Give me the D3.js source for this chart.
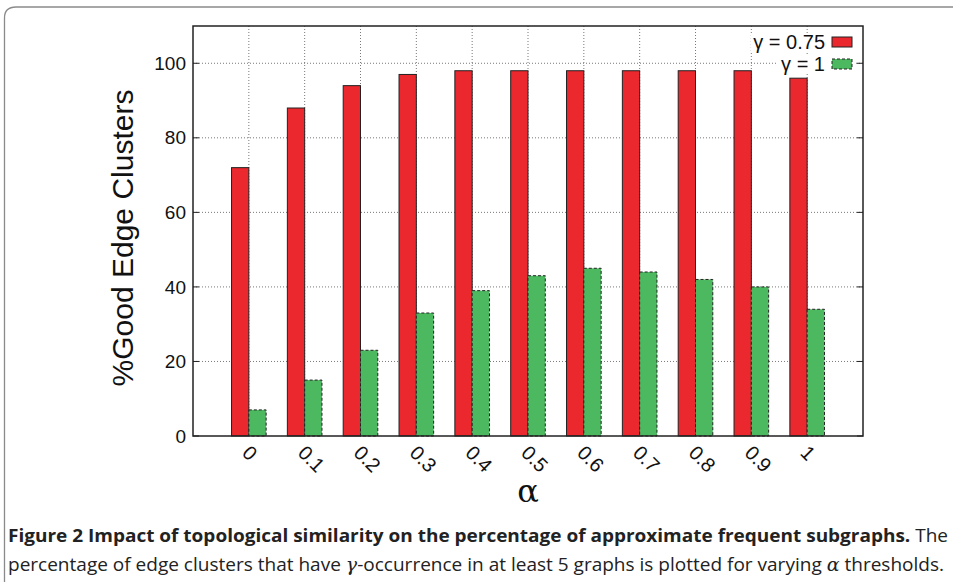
<!DOCTYPE html>
<html><head><meta charset="utf-8">
<script src="https://cdn.jsdelivr.net/npm/d3@7"></script>
<style>body{margin:0;background:#fff}svg{display:block}</style>
</head><body>
<script>
const categories = ["0","0.1","0.2","0.3","0.4","0.5","0.6","0.7","0.8","0.9","1"];
const gamma075 = [72, 88, 94, 97, 98, 98, 98, 98, 98, 98, 96];
const gamma1 = [7, 15, 23, 33, 39, 43, 45, 44, 42, 40, 34];
const yTicks = [0, 20, 40, 60, 80, 100];
const seriesNames = ["γ = 0.75", "γ = 1"];
const colors = ["#ea282d", "#4cb860"];

const W = 953, H = 588;
const SANS = "'Liberation Sans', Arial, Helvetica, sans-serif";
const svg = d3.select("body").append("svg").attr("width", W).attr("height", H);

// outer rounded border
svg.append("path")
  .attr("d", "M 960 7 L 16 7 Q 4.5 7 4.5 18 L 4.5 582")
  .attr("fill", "none").attr("stroke", "#8a8a8a").attr("stroke-width", 1.3);

const L = 193, R = 863, T = 26, B = 436;
const x = d3.scaleLinear().domain([-1, categories.length]).range([L, R]);
const y = d3.scaleLinear().domain([0, 110]).range([B, T]);
const bw = x(0.31) - x(0);

// grid
const g = svg.append("g");
g.selectAll(".hg").data(yTicks.filter(d => d > 0)).join("line")
  .attr("x1", L).attr("x2", R).attr("y1", d => y(d)).attr("y2", d => y(d))
  .attr("stroke", "#555").attr("stroke-width", 0.8).attr("stroke-dasharray", "1,2");
g.selectAll(".vg").data(categories).join("line")
  .attr("x1", (d, i) => x(i)).attr("x2", (d, i) => x(i)).attr("y1", T).attr("y2", B)
  .attr("stroke", "#555").attr("stroke-width", 0.8).attr("stroke-dasharray", "1,2");

// legend background (blanks grid under key entries)
const legY = [42, 64];
const legLeft = [751, 778];
seriesNames.forEach((n, i) => {
  g.append("rect").attr("x", legLeft[i]).attr("y", legY[i] - 8).attr("width", 856 - legLeft[i]).attr("height", 17).attr("fill", "#fff");
});

// bars
g.selectAll(".r").data(gamma075).join("rect")
  .attr("x", (d, i) => x(i) - bw).attr("width", bw)
  .attr("y", d => y(d)).attr("height", d => B - y(d))
  .attr("fill", colors[0]).attr("stroke", "#222").attr("stroke-width", 1);
g.selectAll(".gbar").data(gamma1).join("rect")
  .attr("x", (d, i) => x(i)).attr("width", bw)
  .attr("y", d => y(d)).attr("height", d => B - y(d))
  .attr("fill", colors[1]).attr("stroke", "#222").attr("stroke-width", 1)
  .attr("stroke-dasharray", "3,2");

// frame
svg.append("rect").attr("x", L).attr("y", T).attr("width", R - L).attr("height", B - T)
  .attr("fill", "none").attr("stroke", "#222").attr("stroke-width", 1.5);

// y axis ticks and labels
const yAxis = d3.axisLeft(y).tickValues(yTicks).tickSize(0).tickPadding(7);
const ya = svg.append("g").attr("transform", `translate(${L},0)`).call(yAxis);
ya.select(".domain").remove();
ya.selectAll("text").attr("font-family", SANS)
  .attr("font-size", 19).attr("fill", "#111");
svg.selectAll(".yt").data(yTicks).join("line")
  .attr("x1", L).attr("x2", L + 6).attr("y1", d => y(d)).attr("y2", d => y(d))
  .attr("stroke", "#222");
svg.selectAll(".yt2").data(yTicks).join("line")
  .attr("x1", R - 6).attr("x2", R).attr("y1", d => y(d)).attr("y2", d => y(d))
  .attr("stroke", "#222");

// x tick labels rotated
svg.selectAll(".xl").data(categories).join("text")
  .attr("transform", (d, i) => `translate(${x(i) - 3},${B + 13}) rotate(45)`)
  .attr("font-family", SANS)
  .attr("font-size", 20).attr("fill", "#111")
  .attr("dy", "0.35em")
  .text(d => d);

// axis titles
svg.append("text")
  .attr("transform", `translate(133,${(T + B) / 2 + 7}) rotate(-90)`)
  .attr("text-anchor", "middle")
  .attr("font-family", SANS)
  .attr("font-size", 30).attr("fill", "#111")
  .text("%Good Edge Clusters");
svg.append("text")
  .attr("x", 528).attr("y", 502).attr("text-anchor", "middle")
  .attr("font-family", "'DejaVu Serif', serif")
  .attr("font-size", 32).attr("fill", "#111")
  .text("α");

// legend
const leg = svg.append("g");
seriesNames.forEach((n, i) => {
  leg.append("text").attr("x", 825).attr("y", legY[i] + 7).attr("text-anchor", "end")
    .attr("font-family", SANS).attr("font-size", 20)
    .attr("fill", "#111").text(n);
  leg.append("rect").attr("x", 832).attr("y", legY[i] - 5).attr("width", 20).attr("height", 10)
    .attr("fill", colors[i]).attr("stroke", "#222").attr("stroke-width", 1)
    .attr("stroke-dasharray", i === 1 ? "3,2" : null);
});

// caption
const cap = svg.append("g").attr("font-family", "'Open Sans', 'Noto Sans', sans-serif")
  .attr("font-size", 18).attr("fill", "#222");
const l1 = cap.append("text").attr("x", 8).attr("y", 542).attr("textLength", 940).attr("lengthAdjust", "spacingAndGlyphs");
l1.append("tspan").attr("font-weight", "bold").text("Figure 2 Impact of topological similarity on the percentage of approximate frequent subgraphs.");
l1.append("tspan").text(" The");
const l2 = cap.append("text").attr("x", 8).attr("y", 571).attr("textLength", 936).attr("lengthAdjust", "spacingAndGlyphs");
l2.append("tspan").text("percentage of edge clusters that have ");
l2.append("tspan").attr("font-family", "'DejaVu Serif', serif").attr("font-style", "italic").text("γ");
l2.append("tspan").text("-occurrence in at least 5 graphs is plotted for varying ");
l2.append("tspan").attr("font-family", "'DejaVu Serif', serif").attr("font-style", "italic").text("α");
l2.append("tspan").text(" thresholds.");
</script>
</body></html>
